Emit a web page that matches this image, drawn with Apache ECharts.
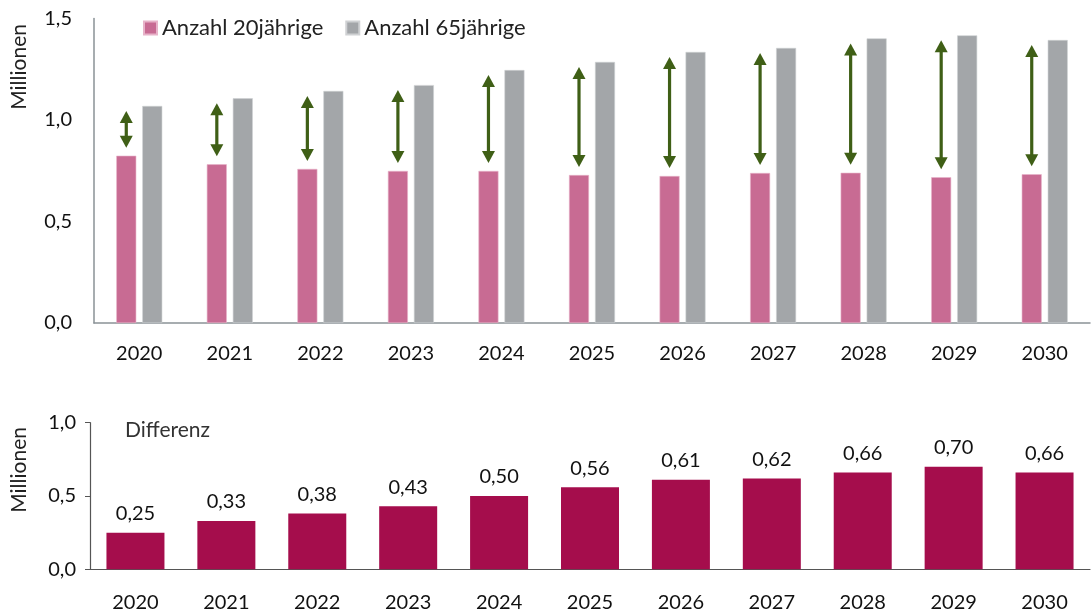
<html>
<head>
<meta charset="utf-8">
<title>Anzahl 20jährige vs. 65jährige</title>
<script src="https://cdn.jsdelivr.net/npm/echarts@6/dist/echarts.min.js"></script>
<style>
  html, body { margin: 0; padding: 0; background: #fff; }
  #chart { width: 1092px; height: 615px; }
</style>
</head>
<body>
<div id="chart"></div>
<script type="text/javascript">
// Daten (Millionen)
var jahre = ['2020', '2021', '2022', '2023', '2024', '2025', '2026', '2027', '2028', '2029', '2030'];
var anzahl20 = [0.824, 0.782, 0.759, 0.749, 0.749, 0.729, 0.724, 0.739, 0.740, 0.718, 0.733];
var anzahl65 = [1.069, 1.107, 1.143, 1.172, 1.246, 1.286, 1.335, 1.355, 1.402, 1.417, 1.394];
var differenz = [0.25, 0.33, 0.38, 0.43, 0.50, 0.56, 0.61, 0.62, 0.66, 0.70, 0.66];

var FONT = 'Lato';
var komma = function (v, n) { return v.toFixed(n).replace('.', ','); };

// Pfeile vom 20jährigen-Balken bis Höhe des 65jährigen-Balkens
var pfeilDaten = [];
for (var i = 0; i < jahre.length; i++) {
    pfeilDaten.push([i, anzahl20[i], anzahl65[i]]);
}

function pfeil(params, api) {
    var lo = api.coord([api.value(0), api.value(1)]);
    var hi = api.coord([api.value(0), api.value(2)]);
    var x = lo[0] - 13;          // Mitte des rosa Balkens
    var yb = lo[1] - 8;
    var yt = hi[1] + 5;
    var h = 12, w = 6.5;
    var farbe = '#3f5f16';
    return {
        type: 'group',
        children: [
            { type: 'line', shape: { x1: x, y1: yt + h - 1, x2: x, y2: yb - h + 1 },
              style: { stroke: farbe, lineWidth: 3.2 } },
            { type: 'polygon', shape: { points: [[x, yt], [x - w, yt + h], [x + w, yt + h]] },
              style: { fill: farbe } },
            { type: 'polygon', shape: { points: [[x, yb], [x - w, yb - h], [x + w, yb - h]] },
              style: { fill: farbe } }
        ]
    };
}

var dom = document.getElementById('chart');
var myChart = echarts.init(dom);

var option = {
    animation: false,
    textStyle: { fontFamily: FONT },
    legend: {
        left: 143,
        top: 17,
        padding: 0,
        itemWidth: 13,
        itemHeight: 13,
        itemGap: 22,
        icon: 'rect',
        textStyle: { fontFamily: FONT, fontSize: 22, color: '#222' },
        data: ['Anzahl 20jährige', 'Anzahl 65jährige']
    },
    graphic: [
        { type: 'text', left: 9, top: 24, rotation: Math.PI / 2,
          style: { text: 'Millionen', font: '21px ' + FONT, fill: '#222' } },
        { type: 'text', left: 9, top: 427, rotation: Math.PI / 2,
          style: { text: 'Millionen', font: '21px ' + FONT, fill: '#222' } },
        { type: 'text', left: 125, top: 420,
          style: { text: 'Differenz', font: '21px ' + FONT, fill: '#333' } }
    ],
    grid: [
        { left: 94, right: 2, top: 18.5, height: 304.5 },
        { left: 90, right: 2, top: 422.7, height: 146.6 }
    ],
    xAxis: [
        {
            type: 'category', gridIndex: 0, data: jahre,
            axisLine: { lineStyle: { color: '#8a9296', width: 1.5 } },
            axisTick: { show: false },
            axisLabel: { fontFamily: FONT, fontSize: 20, color: '#111', margin: 21 }
        },
        {
            type: 'category', gridIndex: 1, data: jahre,
            axisLine: { lineStyle: { color: '#555', width: 1.2 } },
            axisTick: { show: false },
            axisLabel: { fontFamily: FONT, fontSize: 20, color: '#111', margin: 23 }
        }
    ],
    yAxis: [
        {
            type: 'value', gridIndex: 0, min: 0, max: 1.5, interval: 0.5,
            axisLine: { show: true, lineStyle: { color: '#8a9296', width: 1.5 } },
            axisTick: { show: false },
            splitLine: { show: false },
            axisLabel: { fontFamily: FONT, fontSize: 20, color: '#111', margin: 22,
                         formatter: function (v) { return komma(v, 1); } }
        },
        {
            type: 'value', gridIndex: 1, min: 0, max: 1.0, interval: 0.5,
            axisLine: { show: true, lineStyle: { color: '#555', width: 1.2 } },
            axisTick: { show: true, inside: false, length: 5, lineStyle: { color: '#555' } },
            splitLine: { show: false },
            axisLabel: { fontFamily: FONT, fontSize: 20, color: '#111', margin: 14,
                         formatter: function (v) { return komma(v, 1); } }
        }
    ],
    series: [
        {
            name: 'Anzahl 20jährige', type: 'bar', xAxisIndex: 0, yAxisIndex: 0,
            data: anzahl20, barWidth: 20, barGap: '30%',
            itemStyle: { color: '#c86b93', borderColor: '#e7b3c9', borderWidth: 0.6 }
        },
        {
            name: 'Anzahl 65jährige', type: 'bar', xAxisIndex: 0, yAxisIndex: 0,
            data: anzahl65, barWidth: 20, barGap: '30%',
            itemStyle: { color: '#a3a6a9', borderColor: '#cfd1d3', borderWidth: 0.6 }
        },
        {
            name: 'Pfeile', type: 'custom', xAxisIndex: 0, yAxisIndex: 0,
            renderItem: pfeil, data: pfeilDaten,
            encode: { x: 0, y: [1, 2] }, z: 5, silent: true
        },
        {
            name: 'Differenz', type: 'bar', xAxisIndex: 1, yAxisIndex: 1,
            data: differenz, barWidth: 58,
            itemStyle: { color: '#a50d4c' },
            label: { show: true, position: 'top', distance: 9, fontFamily: FONT,
                     fontSize: 20, color: '#111',
                     formatter: function (p) { return komma(p.value, 2); } }
        }
    ]
};

if (option && typeof option === "object") {
    myChart.setOption(option, true);
}
</script>
</body>
</html>
